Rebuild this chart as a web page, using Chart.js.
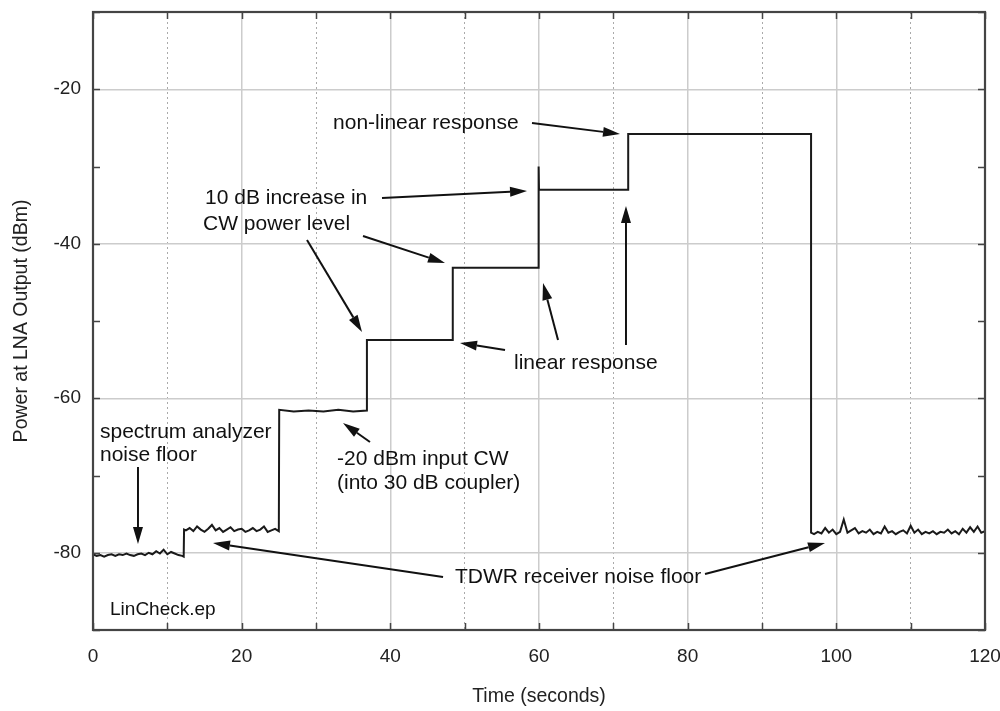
<!DOCTYPE html>
<html>
<head>
<meta charset="utf-8">
<script src="https://cdn.jsdelivr.net/npm/chart.js@4/dist/chart.umd.min.js"></script>
<style>
html,body{margin:0;padding:0;background:#fff;}
canvas{display:block;}
</style>
</head>
<body>
<canvas id="c" width="1000" height="711"></canvas>
<script>
// ---- data ----
const floorATime  = [0,0.5,1,1.5,2,2.5,3,3.5,4,4.5,5,5.5,6,6.5,7,7.5,8,8.5,9,9.5,10,10.5,11,11.5,12,12.2];
const floorAPower = [-80.2,-80.4,-80.3,-80.5,-80.3,-80.2,-80.4,-80.2,-80.3,-80.1,-80.3,-80.4,-80.2,-80.1,-80.3,-80.0,-80.2,-79.8,-80.1,-79.6,-80.2,-79.9,-80.1,-80.3,-80.4,-80.5];

const floorBTime  = [12.25,12.5,13,13.5,14,14.5,15,15.5,16,16.5,17,17.5,18,18.5,19,19.5,20,20.5,21,21.5,22,22.5,23,23.5,24,24.5,25];
const floorBPower = [-77.0,-77.1,-76.8,-77.2,-76.6,-77.0,-77.3,-76.9,-76.4,-77.1,-76.8,-77.3,-77.0,-76.7,-77.2,-77.0,-76.9,-77.3,-77.1,-76.8,-77.2,-77.0,-76.6,-77.3,-77.1,-76.9,-77.2];

const stepTime  = [25.05,27,29,31,33,35,36.85,36.85,48.4,48.4,59.9,59.95,60.0,72.0,72.0,96.6,96.6];
const stepPower = [-61.5,-61.7,-61.6,-61.7,-61.5,-61.7,-61.6,-52.45,-52.45,-43.1,-43.1,-30.0,-33.0,-33.0,-25.8,-25.8,-77.4];

const floorCTime  = [97,97.5,98,98.5,99,99.5,100,100.5,101,101.5,102,102.5,103,103.5,104,104.5,105,105.5,106,106.5,107,107.5,108,108.5,109,109.5,110,110.5,111,111.5,112,112.5,113,113.5,114,114.5,115,115.5,116,116.5,117,117.5,118,118.5,119,119.5,120];
const floorCPower = [-77.6,-77.3,-77.5,-76.8,-77.4,-77.0,-77.6,-77.3,-75.7,-77.4,-77.1,-76.8,-77.5,-77.2,-77.4,-77.0,-77.6,-77.3,-77.5,-76.6,-77.4,-77.2,-77.6,-77.3,-77.1,-77.5,-76.5,-77.4,-77.0,-77.6,-77.3,-77.5,-77.2,-77.6,-77.3,-77.4,-77.0,-77.5,-77.2,-77.6,-76.9,-77.4,-76.7,-77.3,-76.6,-77.4,-77.2];

const xTickValues = [0,20,40,60,80,100,120];
const yTickValues = [-20,-40,-60,-80];

// annotation texts: [text, time, power] (left edge, vertical centre)
const noteText = [
  ['non-linear response', 32.29, -24.37],
  ['10 dB increase in', 15.07, -34.08],
  ['CW power level', 14.80, -37.42],
  ['linear response', 56.64, -55.44],
  ['-20 dBm input CW', 32.83, -67.86],
  ['(into 30 dB coupler)', 32.83, -70.97],
  ['spectrum analyzer', 0.94, -64.37],
  ['noise floor', 0.94, -67.35],
  ['TDWR receiver noise floor', 48.70, -83.14]
];
const fileTag = ['LinCheck.ep', 2.29, -87.41];
// arrows: [tailTime, tailPower, tipTime, tipPower]
const noteArrows = [
  [59.06,-24.37,70.90,-25.79],
  [38.88,-34.08,58.39,-33.17],
  [36.32,-39.00,47.35,-42.49],
  [28.79,-39.51,36.19,-51.42],
  [55.43,-53.75,49.37,-52.85],
  [62.56,-52.46,60.54,-45.08],
  [71.70,-53.11,71.70,-35.11],
  [37.26,-65.66,33.63,-63.20],
  [6.05,-68.90,6.05,-78.87],
  [47.09,-83.14,16.14,-78.74],
  [82.33,-82.75,98.48,-78.74]
];

// ---- build dataset ----
const allTime = [].concat(floorATime, floorBTime, stepTime, floorCTime);
const allPower = [].concat(floorAPower, floorBPower, stepPower, floorCPower);
const points = allTime.map((t, i) => ({x: t, y: allPower[i]}));

const FONT = '"Liberation Sans", Arial, Helvetica, sans-serif';
Chart.defaults.font.family = FONT;
Chart.defaults.color = '#222';

function drawArrow(ctx, x1, y1, x2, y2) {
  const ang = Math.atan2(y2 - y1, x2 - x1);
  const len = 17, half = 5;
  const bx = x2 - len * Math.cos(ang), by = y2 - len * Math.sin(ang);
  ctx.beginPath();
  ctx.moveTo(x1, y1);
  ctx.lineTo(bx, by);
  ctx.stroke();
  ctx.beginPath();
  ctx.moveTo(x2, y2);
  ctx.lineTo(bx + half * Math.sin(ang), by - half * Math.cos(ang));
  ctx.lineTo(bx - half * Math.sin(ang), by + half * Math.cos(ang));
  ctx.closePath();
  ctx.fill();
}

const decor = {
  id: 'decor',
  afterDraw(chart) {
    const ctx = chart.ctx;
    const xs = chart.scales.x, ys = chart.scales.y;
    const a = chart.chartArea;
    ctx.save();
    // inward ticks on all four sides
    ctx.strokeStyle = '#444';
    ctx.lineWidth = 1.5;
    ctx.beginPath();
    xs.ticks.forEach(t => {
      const px = Math.round(xs.getPixelForValue(t.value)) + 0.5;
      ctx.moveTo(px, a.bottom); ctx.lineTo(px, a.bottom - 7);
      ctx.moveTo(px, a.top); ctx.lineTo(px, a.top + 7);
    });
    ys.ticks.forEach(t => {
      const py = Math.round(ys.getPixelForValue(t.value)) + 0.5;
      ctx.moveTo(a.left, py); ctx.lineTo(a.left + 7, py);
      ctx.moveTo(a.right, py); ctx.lineTo(a.right - 7, py);
    });
    ctx.stroke();
    // frame
    ctx.strokeStyle = '#444';
    ctx.lineWidth = 2.2;
    ctx.strokeRect(a.left, a.top, a.right - a.left, a.bottom - a.top);

    // annotation text
    ctx.fillStyle = '#111';
    ctx.font = '21px ' + FONT;
    ctx.textAlign = 'left';
    ctx.textBaseline = 'middle';
    noteText.forEach(n => {
      ctx.fillText(n[0], xs.getPixelForValue(n[1]), ys.getPixelForValue(n[2]));
    });
    ctx.font = '19px ' + FONT;
    ctx.fillText(fileTag[0], xs.getPixelForValue(fileTag[1]), ys.getPixelForValue(fileTag[2]));

    // arrows
    ctx.strokeStyle = '#111';
    ctx.fillStyle = '#111';
    ctx.lineWidth = 2;
    noteArrows.forEach(r => {
      drawArrow(ctx, xs.getPixelForValue(r[0]), ys.getPixelForValue(r[1]),
                     xs.getPixelForValue(r[2]), ys.getPixelForValue(r[3]));
    });
    ctx.restore();
  }
};

new Chart(document.getElementById('c'), {
  type: 'line',
  data: {
    datasets: [{
      data: points,
      borderColor: '#1a1a1a',
      borderWidth: 2,
      pointRadius: 0,
      tension: 0,
      fill: false
    }]
  },
  options: {
    responsive: false,
    animation: false,
    events: [],
    layout: {padding: {top: 12, right: 15, left: 0, bottom: 0}},
    plugins: {legend: {display: false}, tooltip: {enabled: false}},
    scales: {
      x: {
        type: 'linear',
        min: 0, max: 120,
        afterFit(s) { s.height = 81; s.paddingLeft = 0; s.paddingRight = 0; },
        ticks: {
          stepSize: 10, autoSkip: false, maxRotation: 0,
          callback: v => xTickValues.includes(v) ? String(v) : '',
          font: {size: 19}, color: '#222', padding: 15
        },
        grid: {
          drawTicks: false,
          color: c => (c.tick && xTickValues.includes(c.tick.value)) ? '#cccccc' : '#aaaaaa',
          lineWidth: c => (c.tick && xTickValues.includes(c.tick.value)) ? 1.5 : 1
        },
        border: {display: false, dash: c => (c.tick && xTickValues.includes(c.tick.value)) ? [] : [2, 3]},
        title: {display: true, text: 'Time (seconds)', font: {size: 19.5}, color: '#222', padding: {top: 0, bottom: 3}}
      },
      y: {
        type: 'linear',
        min: -90, max: -10,
        afterFit(s) { s.width = 93; s.paddingTop = 0; s.paddingBottom = 0; },
        ticks: {
          stepSize: 10, autoSkip: false,
          callback: v => yTickValues.includes(v) ? String(v) : '',
          font: {size: 19}, color: '#222', padding: 12
        },
        grid: {
          drawTicks: false,
          color: c => (c.tick && yTickValues.includes(c.tick.value)) ? '#cccccc' : 'rgba(0,0,0,0)',
          lineWidth: 1.5
        },
        border: {display: false},
        title: {display: true, text: 'Power at LNA Output (dBm)', font: {size: 19.5}, color: '#222', padding: {top: 10, bottom: 0}}
      }
    }
  },
  plugins: [decor]
});
</script>
</body>
</html>
